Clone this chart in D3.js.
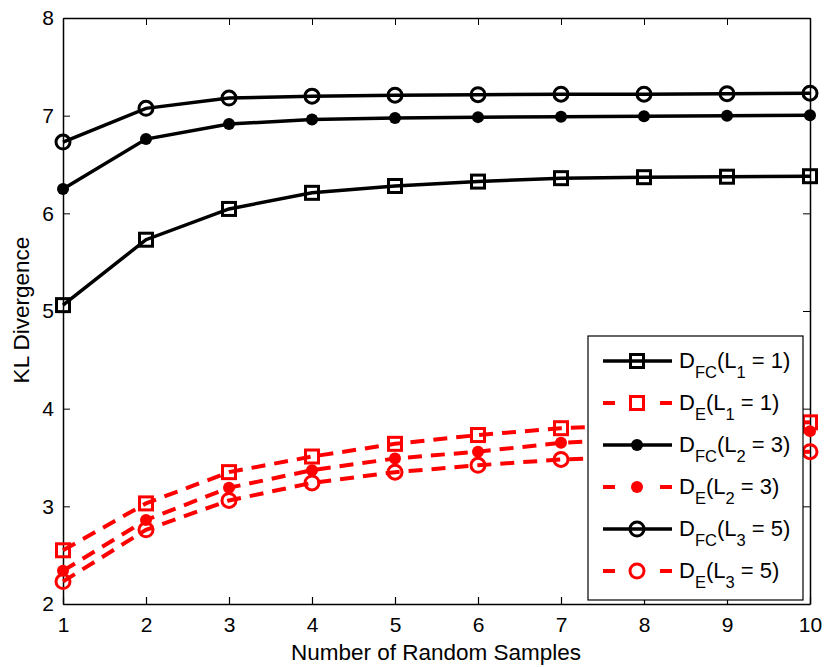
<!DOCTYPE html>
<html>
<head>
<meta charset="utf-8">
<script src="https://d3js.org/d3.v7.min.js"></script>
<style>
  body { margin: 0; background: #fff; }
  text { font-family: "Liberation Sans", Arial, sans-serif; fill: #000; }
</style>
</head>
<body>
<div id="chart"></div>
<script>
var samples = [1, 2, 3, 4, 5, 6, 7, 8, 9, 10];
var xTicks = [1, 2, 3, 4, 5, 6, 7, 8, 9, 10];
var yTicks = [2, 3, 4, 5, 6, 7, 8];

var fcL1 = [5.06, 5.73, 6.045, 6.21, 6.28, 6.325, 6.36, 6.37, 6.375, 6.38];
var eL1  = [2.55, 3.03, 3.35, 3.51, 3.64, 3.73, 3.80, 3.83, 3.85, 3.86];
var fcL2 = [6.25, 6.76, 6.915, 6.96, 6.975, 6.985, 6.99, 6.995, 7.0, 7.005];
var eL2  = [2.34, 2.86, 3.19, 3.37, 3.49, 3.56, 3.65, 3.69, 3.73, 3.77];
var fcL3 = [6.73, 7.075, 7.18, 7.2, 7.21, 7.215, 7.22, 7.22, 7.225, 7.23];
var eL3  = [2.23, 2.76, 3.06, 3.24, 3.35, 3.42, 3.48, 3.51, 3.54, 3.56];

var seriesNames = [
  ["FC", "1", "1"], ["E", "1", "1"],
  ["FC", "2", "3"], ["E", "2", "3"],
  ["FC", "3", "5"], ["E", "3", "5"]
];

var series = [
  {vals: fcL1, color: "#000", dash: null, marker: "square"},
  {vals: eL1,  color: "#f00", dash: "14,9", marker: "square"},
  {vals: fcL2, color: "#000", dash: null, marker: "dot"},
  {vals: eL2,  color: "#f00", dash: "14,9", marker: "dot"},
  {vals: fcL3, color: "#000", dash: null, marker: "circle"},
  {vals: eL3,  color: "#f00", dash: "14,9", marker: "circle"}
];

var W = 825, H = 667;
var mLeft = 63, mRight = 810, mTop = 18, mBottom = 604;

var svg = d3.select("#chart").append("svg")
  .attr("width", W).attr("height", H);

var x = d3.scaleLinear().domain([1, 10]).range([mLeft, mRight]);
var y = d3.scaleLinear().domain([2, 8]).range([mBottom, mTop]);

// axes box with inward ticks
svg.append("g").attr("transform", "translate(0," + mBottom + ")")
  .call(d3.axisBottom(x).tickValues(xTicks).tickFormat(d3.format("d"))
    .tickSizeInner(-7).tickSizeOuter(0).tickPadding(13))
  .call(function(g) {
    g.select(".domain").attr("stroke-width", 1.5);
    g.selectAll("line").attr("stroke-width", 1.2);
    g.selectAll("text").style("font-size", "21px").attr("dy", "0.72em");
  });
svg.append("g").attr("transform", "translate(0," + mTop + ")")
  .call(d3.axisTop(x).tickValues(xTicks).tickSizeInner(-7).tickSizeOuter(0).tickFormat(""))
  .call(function(g) { g.select(".domain").attr("stroke-width", 1.5); });
svg.append("g").attr("transform", "translate(" + mLeft + ",0)")
  .call(d3.axisLeft(y).tickValues(yTicks).tickFormat(d3.format("d"))
    .tickSizeInner(-7).tickSizeOuter(0).tickPadding(9))
  .call(function(g) {
    g.select(".domain").attr("stroke-width", 1.5);
    g.selectAll("text").style("font-size", "21px");
  });
svg.append("g").attr("transform", "translate(" + mRight + ",0)")
  .call(d3.axisRight(y).tickValues(yTicks).tickSizeInner(-7).tickSizeOuter(0).tickFormat(""))
  .call(function(g) { g.select(".domain").attr("stroke-width", 1.5); });

// axis labels
svg.append("text")
  .attr("x", 436).attr("y", 660)
  .attr("text-anchor", "middle").style("font-size", "22.5px")
  .text("Number of Random Samples");
svg.append("text")
  .attr("transform", "translate(29,310) rotate(-90)")
  .attr("text-anchor", "middle").style("font-size", "22.5px")
  .text("KL Divergence");

function drawMarker(g, type, color, cx, cy) {
  if (type === "square") {
    g.append("rect").attr("x", cx - 6.5).attr("y", cy - 6.5)
      .attr("width", 13).attr("height", 13)
      .attr("fill", "none").attr("stroke", color).attr("stroke-width", 3);
  } else if (type === "dot") {
    g.append("circle").attr("cx", cx).attr("cy", cy).attr("r", 6)
      .attr("fill", color).attr("stroke", "none");
  } else {
    g.append("circle").attr("cx", cx).attr("cy", cy).attr("r", 7)
      .attr("fill", "none").attr("stroke", color).attr("stroke-width", 3);
  }
}

var line = d3.line()
  .x(function(d, i) { return x(samples[i]); })
  .y(function(d) { return y(d); });

series.forEach(function(s) {
  var g = svg.append("g");
  g.append("path").attr("d", line(s.vals))
    .attr("fill", "none").attr("stroke", s.color)
    .attr("stroke-width", s.dash ? 4 : 3.5)
    .attr("stroke-dasharray", s.dash);
  s.vals.forEach(function(v, i) {
    drawMarker(g, s.marker, s.color, x(samples[i]), y(v));
  });
});

// legend
var lg = svg.append("g");
lg.append("rect").attr("x", 588).attr("y", 336)
  .attr("width", 215).attr("height", 264)
  .attr("fill", "#fff").attr("stroke", "#000").attr("stroke-width", 1.2);

series.forEach(function(s, i) {
  var cy = 361 + i * 42;
  var row = lg.append("g");
  row.append("line").attr("x1", 603).attr("x2", 672).attr("y1", cy).attr("y2", cy)
    .attr("stroke", s.color).attr("stroke-width", s.dash ? 4 : 3.5)
    .attr("stroke-dasharray", s.dash ? "12,45,12" : null);
  drawMarker(row, s.marker, s.color, 637, cy);
  var n = seriesNames[i];
  var t = row.append("text").attr("x", 679).attr("y", cy + 7).style("font-size", "22px");
  t.append("tspan").text("D");
  t.append("tspan").attr("dy", 10).style("font-size", "16.5px").text(n[0]);
  t.append("tspan").attr("dy", -10).text("(L");
  t.append("tspan").attr("dy", 10).style("font-size", "16.5px").text(n[1]);
  t.append("tspan").attr("dy", -10).text(" = " + n[2] + ")");
});
</script>
</body>
</html>
